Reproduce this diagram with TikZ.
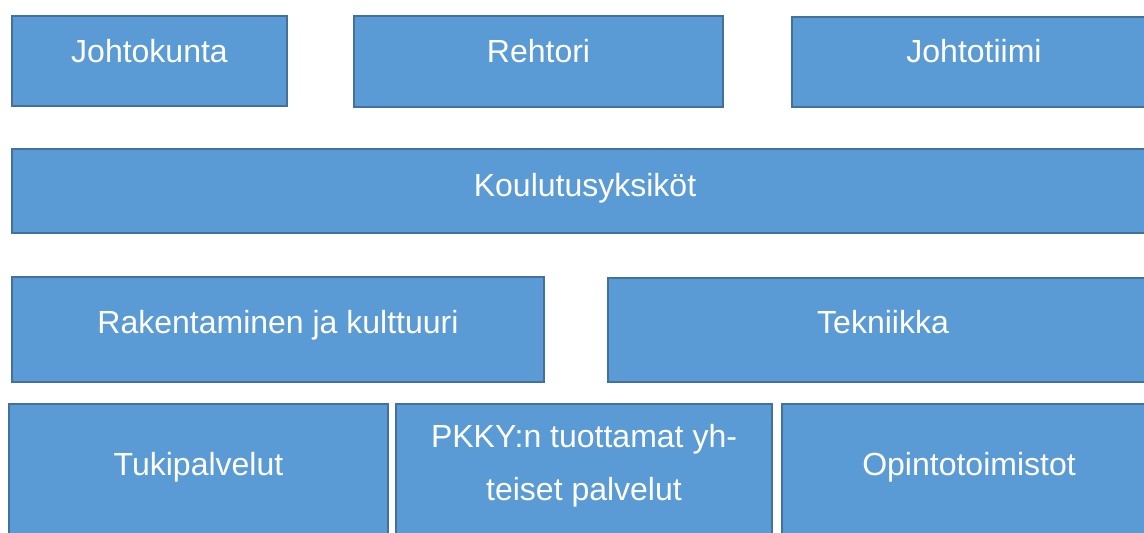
\documentclass[tikz,border=0pt]{standalone}
\usepackage{fontspec}
\setmainfont{Liberation Sans}
\definecolor{lohkosin}{HTML}{5B9BD5}
\definecolor{reunasin}{HTML}{41719C}
\tikzset{
lohko/.style={fill=lohkosin,draw=reunasin,line width=1.5pt},
teksti/.style={anchor=base,text=white,font=\fontsize{24}{24}\selectfont,inner sep=0pt}
}
\begin{document}
\begin{tikzpicture}[x=0.75pt,y=-0.75pt]
\useasboundingbox (0,0) rectangle (1144,532);
\clip (0,0) rectangle (1144,532);
\draw [lohko](12,16) rectangle (287,106);
\draw [lohko](354,16) rectangle (723,107);
\draw [lohko](792,17) rectangle (1156,107);
\draw [lohko](12,149) rectangle (1158,233);
\draw [lohko](12,277) rectangle (544,382);
\draw [lohko](608,278) rectangle (1158,382);
\draw [lohko](9,404) rectangle (388,545);
\draw [lohko](396,404) rectangle (772,545);
\draw [lohko](782,404) rectangle (1156,545);
\node [teksti] (johtokunta) at (149.5,62) {Johtokunta};
\node [teksti] (rehtori) at (538.5,62) {Rehtori};
\node [teksti] (johtotiimi) at (974,62) {Johtotiimi};
\node [teksti] (koulutus) at (585,196) {Koulutusyksiköt};
\node [teksti] (rakentaminen) at (278,333) {Rakentaminen ja kulttuuri};
\node [teksti] (tekniikka) at (883,333) {Tekniikka};
\node [teksti] (tuki) at (198.5,475) {Tukipalvelut};
\node [teksti] (pkky) at (584,447) {PKKY:n tuottamat yh-};
\node [teksti] (pkkyb) at (584,500) {teiset palvelut};
\node [teksti] (opinto) at (969,475) {Opintotoimistot};
\end{tikzpicture}
\end{document}
